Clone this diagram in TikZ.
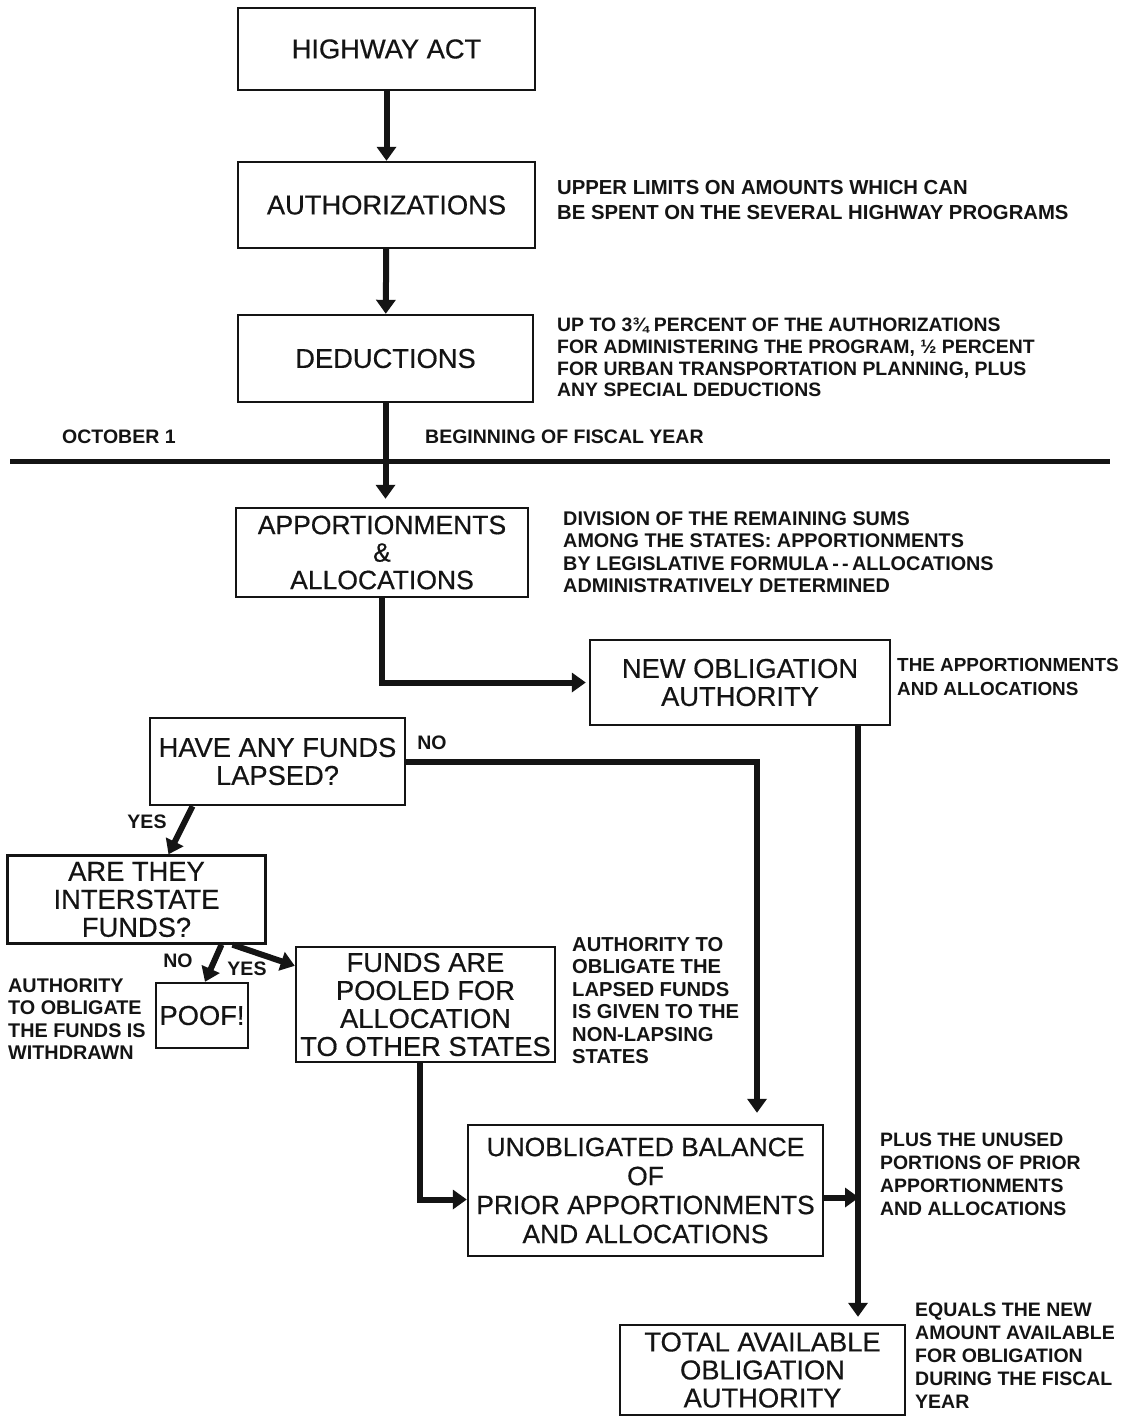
\documentclass[tikz,border=0pt]{standalone}
\usepackage{fontspec}
\setmainfont{Liberation Sans}
\newfontfamily\boxfont[FakeBold=0.5]{Liberation Sans}
\usepackage{tikz}
\usetikzlibrary{arrows.meta}
\definecolor{ink}{HTML}{141414}
\definecolor{paper}{HTML}{FFFFFF}
\tikzset{
  box/.style={draw=ink, line width=2.4pt, align=center, inner sep=0pt, text=ink, font=\boxfont\fontsize{27.3}{28}\selectfont},
  flow/.style={draw=ink, line width=6pt, -{Triangle[length=14pt,width=19pt]}},
  note/.style={anchor=north west, align=left, inner sep=0pt, text=ink, font=\bfseries\fontsize{19.8}{22.5}\selectfont},
  tag/.style={text=ink, inner sep=0pt, font=\bfseries\fontsize{19.5}{22}\selectfont},
  rule/.style={draw=ink, line width=5pt},
}

\begin{document}
\begin{tikzpicture}[x=1pt,y=-1pt]
  \fill[paper] (0,0) rectangle (1123,1419);
  \useasboundingbox (0,0) rectangle (1123,1419);

  % boxes
  \node[box, minimum width=297pt, minimum height=82pt] (act) at (386.5,49) {HIGHWAY ACT};
  \node[box, minimum width=297pt, minimum height=86pt] (auth) at (386.5,205) {AUTHORIZATIONS};
  \node[box, minimum width=295pt, minimum height=87pt] (ded) at (385.5,358.5) {DEDUCTIONS};
  \node[box, minimum width=292pt, minimum height=89pt, font=\boxfont\fontsize{26.5}{27.5}\selectfont] (appo) at (382,552.5) {APPORTIONMENTS\\\&\\ALLOCATIONS};
  \node[box, minimum width=300pt, minimum height=85pt] (newob) at (740,682.5) {NEW OBLIGATION\\AUTHORITY};
  \node[box, minimum width=255pt, minimum height=87pt] (lapsed) at (277.5,761.5) {HAVE ANY FUNDS\\LAPSED?};
  \node[box, minimum width=258pt, minimum height=88pt] (inter) at (136.5,899.5) {ARE THEY\\INTERSTATE\\FUNDS?};
  \node[box, minimum width=92pt, minimum height=65pt] (poof) at (202,1015.5) {POOF!};
  \node[box, minimum width=259pt, minimum height=115pt] (funds) at (425.5,1004.5) {FUNDS ARE\\POOLED FOR\\ALLOCATION\\TO OTHER STATES};
  \node[box, minimum width=355pt, minimum height=131pt, font=\boxfont\fontsize{26.4}{29}\selectfont] (unob) at (645.5,1190.5) {UNOBLIGATED BALANCE\\OF\\PRIOR APPORTIONMENTS\\AND ALLOCATIONS};
  \node[box, minimum width=285pt, minimum height=90pt] (total) at (762.5,1370) {TOTAL AVAILABLE\\OBLIGATION\\AUTHORITY};

  % notes
  \node[note, font=\bfseries\fontsize{20.3}{25}\selectfont] (authnote) at (557,180) {UPPER LIMITS ON AMOUNTS WHICH CAN\\BE SPENT ON THE SEVERAL HIGHWAY PROGRAMS};
  \node[note, font=\bfseries\fontsize{19.4}{21.7}\selectfont] (dednote) at (557,318) {UP TO 3¾ PERCENT OF THE AUTHORIZATIONS\\FOR ADMINISTERING THE PROGRAM, ½ PERCENT\\FOR URBAN TRANSPORTATION PLANNING, PLUS\\ANY SPECIAL DEDUCTIONS};
  \node[note] (apponote) at (563,511) {DIVISION OF THE REMAINING SUMS\\AMONG THE STATES: APPORTIONMENTS\\BY LEGISLATIVE FORMULA\,-\,-\,ALLOCATIONS\\ADMINISTRATIVELY DETERMINED};
  \node[note, font=\bfseries\fontsize{18.9}{24}\selectfont] (newobnote) at (897,658) {THE APPORTIONMENTS\\AND ALLOCATIONS};
  \node[note] (poofnote) at (8,978) {AUTHORITY\\TO OBLIGATE\\THE FUNDS IS\\WITHDRAWN};
  \node[note, font=\bfseries\fontsize{20.2}{22.5}\selectfont] (fundsnote) at (572,937) {AUTHORITY TO\\OBLIGATE THE\\LAPSED FUNDS\\IS GIVEN TO THE\\NON-LAPSING\\STATES};
  \node[note, font=\bfseries\fontsize{19.4}{23}\selectfont] (unobnote) at (880,1133) {PLUS THE UNUSED\\PORTIONS OF PRIOR\\APPORTIONMENTS\\AND ALLOCATIONS};
  \node[note, font=\bfseries\fontsize{19.5}{23}\selectfont] (totalnote) at (915,1303) {EQUALS THE NEW\\AMOUNT AVAILABLE\\FOR OBLIGATION\\DURING THE FISCAL\\YEAR};

  % fiscal year line
  \node[tag, anchor=west] (oct) at (62,437) {OCTOBER 1};
  \node[tag, anchor=west] (fiscal) at (425,437) {BEGINNING OF FISCAL YEAR};
  \draw[rule] (10,461) -- (1110,461);

  % yes / no
  \node[tag] (yes1) at (147,822) {YES};
  \node[tag] (no1) at (432,743) {NO};
  \node[tag] (no2) at (178,961) {NO};
  \node[tag] (yes2) at (247,969) {YES};

  % connectors
  \coordinate (spine) at (858,0);
  \coordinate (nodrop) at (757,0);
  \draw[flow] (act) -- (auth);
  \draw[flow] (auth) -- (ded);
  \draw[flow, shorten >=8pt] (ded.south) -- (ded.south |- appo.north);
  \draw[flow, shorten >=3pt] (appo.south) |- (newob.west);
  \draw[flow, shorten >=11pt] (lapsed.east) -| (nodrop |- unob.north);
  \draw[flow] ([xshift=-85pt]lapsed.south) -- ([xshift=32pt]inter.north);
  \draw[flow] ([xshift=85pt]inter.south) -- ([xshift=3pt]poof.north);
  \draw[flow] ([xshift=96pt]inter.south) -- ([yshift=-20pt]funds.north west);
  \draw[flow] ([xshift=-6pt]funds.south) |- ([yshift=-9pt]unob.west);
  \draw[flow, shorten >=7pt] (spine |- newob.south) -- (spine |- total.north);
  \draw[flow, shorten >=-1pt] ([yshift=-7pt]unob.east) -- ([yshift=-7pt]spine |- unob.east);
\end{tikzpicture}
\end{document}
